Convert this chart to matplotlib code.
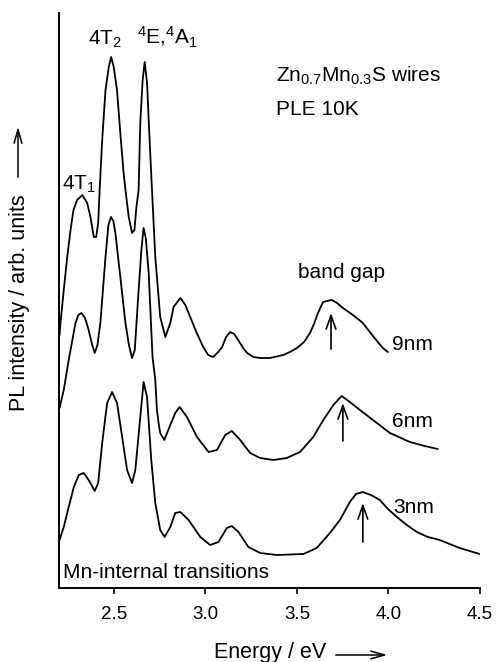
import matplotlib
matplotlib.use("Agg")
import matplotlib.pyplot as plt
from matplotlib.patches import FancyArrowPatch

plt.rcParams['font.family'] = ['Liberation Sans', 'DejaVu Sans']
plt.rcParams['mathtext.default'] = 'regular'

# ---- data (energy in eV, intensity in arb. units incl. vertical offset) ----
e_9nm = [2.203, 2.208, 2.226, 2.245, 2.263, 2.279, 2.299, 2.327, 2.354, 2.372, 2.390, 2.403,
         2.414, 2.422, 2.436, 2.454, 2.472, 2.485, 2.499, 2.517, 2.535, 2.553, 2.563, 2.581,
         2.599, 2.612, 2.623, 2.635, 2.644, 2.657, 2.668, 2.681, 2.695, 2.708, 2.726, 2.753,
         2.781, 2.808, 2.826, 2.863, 2.890, 2.917, 2.950, 2.988, 3.015, 3.042, 3.070, 3.091,
         3.113, 3.135, 3.157, 3.179, 3.206, 3.228, 3.261, 3.299, 3.353, 3.424, 3.462, 3.500,
         3.539, 3.571, 3.593, 3.615, 3.642, 3.664, 3.691, 3.719, 3.751, 3.806, 3.860, 3.915,
         3.969, 3.997]
i_9nm = [253, 265, 298, 331, 358, 378, 388, 393, 385, 371, 351, 351,
         365, 398, 448, 498, 521, 531, 521, 498, 455, 415, 398, 371,
         355, 358, 381, 398, 465, 508, 526, 505, 448, 398, 331, 271,
         251, 265, 281, 290, 283, 271, 256, 241, 233, 231, 236, 241,
         251, 256, 254, 248, 240, 235, 231, 230, 230, 233, 236, 240,
         246, 255, 264, 275, 286, 287, 288, 285, 280, 273, 265, 252,
         240, 236]

e_6nm = [2.203, 2.226, 2.253, 2.263, 2.290, 2.306, 2.323, 2.342, 2.362, 2.380, 2.395, 2.410,
         2.426, 2.454, 2.470, 2.484, 2.497, 2.508, 2.535, 2.563, 2.582, 2.599, 2.614, 2.635,
         2.650, 2.662, 2.674, 2.690, 2.711, 2.726, 2.735, 2.744, 2.753, 2.775, 2.808, 2.835,
         2.859, 2.899, 2.954, 3.017, 3.063, 3.108, 3.144, 3.190, 3.244, 3.299, 3.371, 3.444,
         3.517, 3.589, 3.644, 3.699, 3.744, 3.789, 3.844, 3.915, 4.008, 4.117, 4.198, 4.269]
i_6nm = [180, 198, 228, 238, 265, 273, 275, 270, 258, 244, 235, 243,
         265, 331, 363, 371, 367, 355, 311, 265, 243, 230, 238, 298,
         338, 360, 350, 315, 231, 208, 178, 165, 155, 148, 163, 175,
         181, 171, 151, 136, 138, 153, 157, 148, 135, 130, 128, 130,
         136, 151, 168, 183, 192, 186, 178, 168, 155, 146, 142, 139]

e_3nm = [2.203, 2.226, 2.253, 2.281, 2.308, 2.335, 2.362, 2.395, 2.414, 2.436, 2.463, 2.490,
         2.517, 2.545, 2.572, 2.599, 2.617, 2.639, 2.662, 2.681, 2.704, 2.726, 2.753, 2.777,
         2.808, 2.835, 2.863, 2.908, 2.972, 3.026, 3.071, 3.117, 3.144, 3.180, 3.235, 3.299,
         3.390, 3.535, 3.608, 3.680, 3.735, 3.789, 3.822, 3.860, 3.904, 3.953, 3.997, 4.046,
         4.100, 4.155, 4.215, 4.280, 4.389, 4.498]
i_3nm = [48, 61, 81, 101, 113, 115, 108, 97, 105, 145, 185, 196,
         185, 151, 118, 105, 118, 161, 206, 191, 128, 85, 58, 51,
         61, 75, 76, 68, 51, 43, 46, 60, 62, 56, 41, 35,
         33, 34, 40, 55, 68, 86, 94, 96, 93, 88, 79, 71,
         63, 56, 51, 48, 40, 34]

# band-gap arrows: (energy, start intensity, end intensity)
gap_e = [3.686, 3.751, 3.860]
gap_from = [239, 147, 46]
gap_to = [275, 185, 85]

size_labels = ["9nm", "6nm", "3nm"]
size_label_pos = [(4.018, 238), (4.018, 161), (4.024, 75)]

xticks = [2.5, 3.0, 3.5, 4.0, 4.5]
xtick_labels = ["2.5", "3.0", "3.5", "4.0", "4.5"]

# ---- figure ----
W, H = 498, 662
fig = plt.figure(figsize=(W / 100, H / 100), dpi=100)
ax = fig.add_axes([59 / W, 1 - 588 / H, (480 - 59) / W, (588 - 13) / H])

lw = 1.3
for e, i in [(e_9nm, i_9nm), (e_6nm, i_6nm), (e_3nm, i_3nm)]:
    ax.plot(e, i, color='black', lw=lw, solid_joinstyle='round', solid_capstyle='round')

for x, y0, y1 in zip(gap_e, gap_from, gap_to):
    ax.annotate("", xy=(x, y1), xytext=(x, y0),
                arrowprops=dict(arrowstyle='->,head_length=0.7,head_width=0.25',
                                lw=1.2, color='black', shrinkA=0, shrinkB=0,
                                mutation_scale=14))

for lab, (x, y) in zip(size_labels, size_label_pos):
    ax.text(x, y, lab, fontsize=15, va='baseline', ha='left')

ax.text(2.214, 398, "4T$_1$", fontsize=15, va='baseline', ha='left')
ax.text(2.356, 543, "4T$_2$", fontsize=15, va='baseline', ha='left')
ax.text(2.628, 543, "$^4$E,$^4$A$_1$", fontsize=15, va='baseline', ha='left')
ax.text(3.386, 506, "Zn$_{0.7}$Mn$_{0.3}$S wires", fontsize=15, va='baseline', ha='left')
ax.text(3.386, 473, "PLE 10K", fontsize=15, va='baseline', ha='left')
ax.text(3.743, 310, "band gap", fontsize=15, va='baseline', ha='center')
ax.text(2.224, 10, "Mn-internal transitions", fontsize=15, va='baseline', ha='left')

ax.set_xlim(2.2, 4.5)
ax.set_ylim(0, 575)
ax.set_xticks(xticks)
ax.set_xticklabels(xtick_labels)
ax.set_yticks([])
ax.tick_params(axis='x', direction='out', length=4, width=1.2, labelsize=13.5, pad=9)
for s in ['top', 'right']:
    ax.spines[s].set_visible(False)
for s in ['left', 'bottom']:
    ax.spines[s].set_linewidth(1.4)

# axis labels with arrows (figure coordinates)
fig.text(270 / W, 1 - 658 / H, "Energy / eV", fontsize=15.5, ha='center', va='baseline')
fig.patches.append(FancyArrowPatch(
    (333 / W, 1 - 655 / H), (390 / W, 1 - 655 / H), transform=fig.transFigure,
    arrowstyle='->,head_length=0.7,head_width=0.2', mutation_scale=14, lw=1.1, color='black'))

fig.text(20 / W, 1 - 303 / H, "PL intensity / arb. units", fontsize=15.5, rotation=90,
         ha='center', va='center')
fig.patches.append(FancyArrowPatch(
    (18 / W, 1 - 180 / H), (18 / W, 1 - 124 / H), transform=fig.transFigure,
    arrowstyle='->,head_length=0.7,head_width=0.2', mutation_scale=14, lw=1.1, color='black'))

fig.savefig("out.png", dpi=100)
